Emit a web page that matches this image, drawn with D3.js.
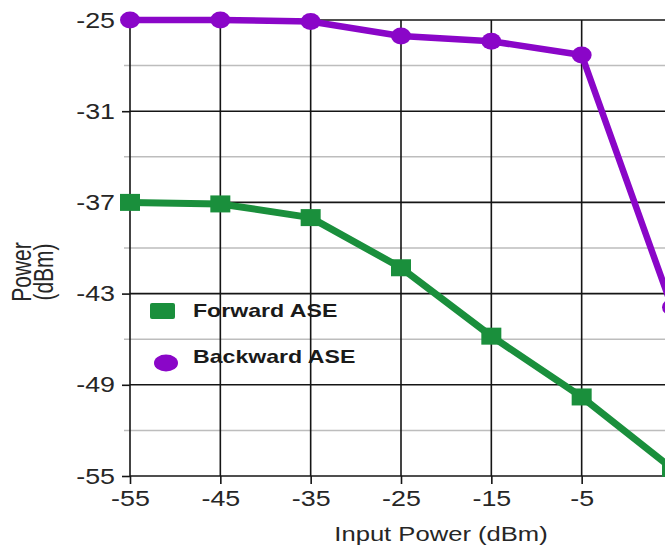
<!DOCTYPE html>
<html>
<head>
<meta charset="utf-8">
<script src="https://cdn.jsdelivr.net/npm/d3@7"></script>
<style>
  body { margin: 0; background: #fff; }
  svg { display: block; font-family: "Liberation Sans", Arial, sans-serif; }
</style>
</head>
<body>
<svg id="chart" width="665" height="549"></svg>
<script>
// chart values
var inputPower  = [-55, -45, -35, -25, -15, -5, 5];
var forwardASE  = [-37.0, -37.1, -38.0, -41.3, -45.8, -49.8, -54.5];
var backwardASE = [-25.0, -25.0, -25.1, -26.05, -26.4, -27.3, -43.9];
var xTicks      = [-55, -45, -35, -25, -15, -5];
var yTicks      = [-25, -31, -37, -43, -49, -55];
var yMinorTicks = [-28, -34, -40, -46, -52];
var seriesNames = ["Forward ASE", "Backward ASE"];

var svg = d3.select("#chart"),
    plotLeft = 130, plotTop = 20, plotBottom = 476, plotRight = 672,
    stretch = 1.22,
    green = "#1a8f3c", purple = "#8a06c8";

var xScale = d3.scaleLinear().domain([-55, 5]).range([plotLeft, plotRight]);
var yScale = d3.scaleLinear().domain([-55, -25]).range([plotBottom, plotTop]);

// minor horizontal grid
svg.append("g").selectAll("line").data(yMinorTicks).enter().append("line")
   .attr("x1", plotLeft - 6).attr("x2", plotRight)
   .attr("y1", function(d) { return yScale(d); })
   .attr("y2", function(d) { return yScale(d); })
   .attr("stroke", "#bdbdbd").attr("stroke-width", 1.5);

// major horizontal grid
svg.append("g").selectAll("line").data(yTicks).enter().append("line")
   .attr("x1", plotLeft).attr("x2", plotRight)
   .attr("y1", function(d) { return yScale(d); })
   .attr("y2", function(d) { return yScale(d); })
   .attr("stroke", "#151515").attr("stroke-width", 1.6);

// vertical grid
svg.append("g").selectAll("line").data(xTicks).enter().append("line")
   .attr("x1", function(d) { return xScale(d); })
   .attr("x2", function(d) { return xScale(d); })
   .attr("y1", plotTop).attr("y2", plotBottom)
   .attr("stroke", "#151515").attr("stroke-width", 1.6);

// axes
var xAxis = d3.axisBottom(xScale).tickValues(xTicks).tickSize(8).tickPadding(6)
    .tickFormat(function(d) { return d; });
var yAxis = d3.axisLeft(yScale).tickValues(yTicks).tickSize(8).tickPadding(7)
    .tickFormat(function(d) { return d; });

var gx = svg.append("g").attr("transform", "translate(0," + plotBottom + ")").call(xAxis);
var gy = svg.append("g").attr("transform", "translate(" + plotLeft + ",0)").call(yAxis);

[gx, gy].forEach(function(g) {
  g.select(".domain").remove();
  g.selectAll(".tick line").attr("stroke", "#151515").attr("stroke-width", 1.6);
  g.selectAll(".tick text")
   .attr("fill", "#262626")
   .style("font-size", "22px");
});
gx.selectAll(".tick text").attr("transform", "scale(" + stretch + ",1)");
gy.selectAll(".tick text").attr("x", -15 / stretch).attr("transform", "scale(" + stretch + ",1)");

// axis titles
svg.append("text")
   .attr("transform", "translate(441,541) scale(" + stretch + ",1)")
   .attr("text-anchor", "middle")
   .attr("fill", "#262626")
   .style("font-size", "21px")
   .text("Input Power (dBm)");

var yTitle = svg.append("text")
   .attr("transform", "translate(31,272) scale(1.3,1) rotate(-90)")
   .attr("text-anchor", "middle")
   .attr("fill", "#262626")
   .style("font-size", "21px");
yTitle.append("tspan").attr("x", 0).attr("y", 0).text("Power");
yTitle.append("tspan").attr("x", 0).attr("y", 17).text("(dBm)");

// lines
var line = d3.line()
    .x(function(d) { return xScale(d[0]); })
    .y(function(d) { return yScale(d[1]); });

var fwd = d3.zip(inputPower, forwardASE);
var bwd = d3.zip(inputPower, backwardASE);

svg.append("path").datum(fwd)
   .attr("d", line).attr("fill", "none")
   .attr("stroke", green).attr("stroke-width", 7).attr("stroke-linejoin", "round");

svg.append("path").datum(bwd)
   .attr("d", line).attr("fill", "none")
   .attr("stroke", purple).attr("stroke-width", 6.5).attr("stroke-linejoin", "round");

// markers
svg.append("g").selectAll("rect").data(fwd).enter().append("rect")
   .attr("x", function(d) { return xScale(d[0]) - 10; })
   .attr("y", function(d) { return yScale(d[1]) - 8.5; })
   .attr("width", 20).attr("height", 17)
   .attr("fill", green);

svg.append("g").selectAll("ellipse").data(bwd).enter().append("ellipse")
   .attr("cx", function(d) { return xScale(d[0]); })
   .attr("cy", function(d) { return yScale(d[1]); })
   .attr("rx", 10).attr("ry", 8.5)
   .attr("fill", purple);

// legend
var legend = svg.append("g");
legend.append("rect").attr("x", 150).attr("y", 303).attr("width", 25).attr("height", 16)
      .attr("rx", 2).attr("fill", green);
legend.append("ellipse").attr("cx", 166).attr("cy", 363).attr("rx", 12).attr("ry", 8.5)
      .attr("fill", purple);
legend.selectAll("text").data(seriesNames).enter().append("text")
      .attr("transform", function(d, i) { return "translate(193," + (317 + i * 46) + ") scale(1.25,1)"; })
      .attr("fill", "#1a1a1a")
      .style("font-size", "18.5px").style("font-weight", "bold")
      .text(function(d) { return d; });
</script>
</body>
</html>
